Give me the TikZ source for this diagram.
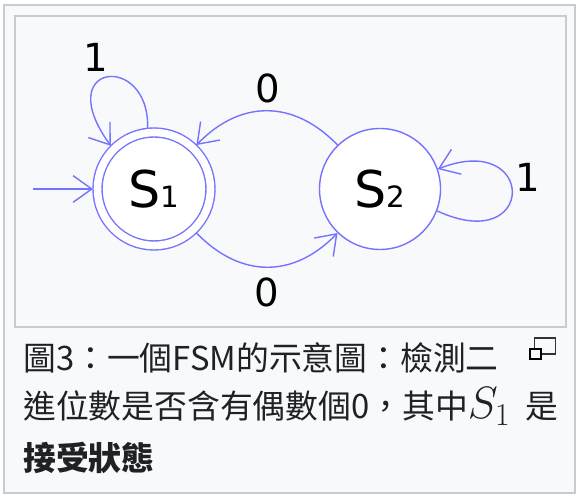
\documentclass[tikz,border=0pt]{standalone}
\usepackage{fix-cm}
\usepackage{fontspec}
\usepackage{tikz}
\usetikzlibrary{arrows.meta}
\newfontfamily\dejavu{DejaVu Sans}
\newfontfamily\cjk[Script=CJK,Language=Chinese Traditional]{Noto Sans CJK TC}
\definecolor{boxbg}{HTML}{F8F9FA}
\definecolor{boxline}{HTML}{C8CCD1}
\definecolor{fsmblue}{HTML}{7373FF}
\definecolor{captext}{HTML}{202122}
\tikzset{
  fsmedge/.style={draw=fsmblue,line width=1.05pt,line join=round,
    -{Straight Barb[length=14pt,width=20pt]}},
  fsmlabel/.style={font=\dejavu\fontsize{29}{29}\selectfont,inner sep=0pt},
  caption/.style={anchor=base west,inner sep=0pt,text=captext,
    font=\cjk\fontsize{24.6}{24.6}\selectfont}
}
\newcommand{\statename}[1]{{\fontsize{38}{38}\selectfont S}{\fontsize{22}{22}\selectfont #1}}

\begin{document}
\begin{tikzpicture}[x=0.75pt,y=0.75pt]
\useasboundingbox (0,0) rectangle (580,498);
% frames
\draw [boxline,fill=boxbg,line width=1.5pt](3.5,4.5) rectangle (574.5,493);
\draw [boxline,fill=boxbg,line width=1.5pt](14.5,170.5) rectangle (566,482);
% states
\node (s1) at (154,309) [circle,draw=fsmblue,fill=white,line width=1.05pt,double,double distance=5.7pt,
  minimum size=84.75pt,inner sep=0pt,outer sep=3.4pt,font=\dejavu]{\statename{1}};
\node (s2) at (380,309) [circle,draw=fsmblue,fill=white,line width=1.05pt,
  minimum size=90.75pt,inner sep=0pt,font=\dejavu]{\statename{2}};
% transitions
\coordinate (start) at (33,309);
\draw [fsmedge](start) -- (s1);
\draw [fsmedge](s1.96) .. controls (150,446) and (50,436) .. (s1.135);
\draw [fsmedge](s2.-21) .. controls (537,241) and (537,368) .. (s2.19);
\draw [fsmedge](s2) to[out=134,in=46,looseness=1.15] (s1);
\draw [fsmedge](s1) to[out=-46,in=-134,looseness=1.15] (s2);
\node (loop1) at (96,441) [fsmlabel]{1};
\node (loop2) at (528,321) [fsmlabel]{1};
\node (back0) at (268,410) [fsmlabel]{0};
\node (fwd0) at (267,206) [fsmlabel]{0};
% caption
\node (cap1) at (23,127) [caption]{圖3：一個FSM的示意圖：檢測二};
\node (cap2) at (23,79) [caption]{進位數是否含有偶數個0，其中{\fontsize{34}{34}\selectfont$S_1$}\hspace{0.45em}是};
\node (cap3) at (23,27) [caption]{\bfseries 接受狀態};
\draw [black!80,line width=1.1pt](534.5,144) rectangle (555.5,160);
\draw [black,fill=boxbg,line width=1.5pt](529.5,139) rectangle (540.5,149);
\end{tikzpicture}
\end{document}
